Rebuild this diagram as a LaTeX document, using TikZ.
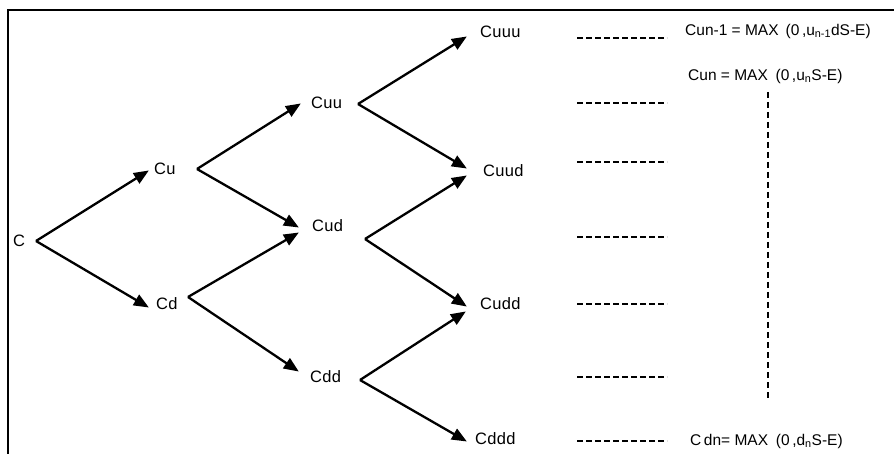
\documentclass[tikz,border=0pt]{standalone}
\usepackage{fontspec}
\setmainfont{Liberation Sans}
\newfontfamily\lblfont[LetterSpace=2]{Liberation Sans}
\usetikzlibrary{arrows.meta}
\tikzset{
  lbl/.style={anchor=west, inner sep=0pt, font=\lblfont\fontsize{16.5}{19}\selectfont},
  frm/.style={anchor=west, inner sep=0pt, font=\fontsize{15.5}{18}\selectfont},
  arr/.style={line width=2.3pt, -{Triangle[length=15pt,width=12pt]}, shorten >=-1pt},
  dsh/.style={line width=2.4pt, dash pattern=on 6pt off 3pt},
  frame/.style={line width=2.3pt}
}
\begin{document}
\begin{tikzpicture}[x=1pt,y=-1pt]
\useasboundingbox (0,0) rectangle (894,454);
% frame
\draw[frame] (894,10) -- (8,10) -- (8,454);
% labels
\node[lbl] (C)    at (13,241) {C};
\node[lbl] (Cu)   at (154,169) {Cu};
\node[lbl] (Cd)   at (156,304) {Cd};
\node[lbl] (Cuu)  at (311,103) {Cuu};
\node[lbl] (Cud)  at (312,226) {Cud};
\node[lbl] (Cdd)  at (310,377) {Cdd};
\node[lbl] (Cuuu) at (480,32) {Cuuu};
\node[lbl] (Cuud) at (483,171) {Cuud};
\node[lbl] (Cudd) at (480,304) {Cudd};
\node[lbl] (Cddd) at (475,439) {Cddd};
% branch points and arrow tips
\coordinate (C-o)   at (36,241);
\coordinate (Cu-o)  at (197,169);
\coordinate (Cd-o)  at (188,297);
\coordinate (Cuu-o) at (358,104);
\coordinate (Cud-o) at (365,239);
\coordinate (Cdd-o) at (360,380);
\coordinate (Cu-i)   at (148,171);
\coordinate (Cd-i)   at (148,307);
\coordinate (Cuu-i)  at (300,104);
\coordinate (Cud-i1) at (298,227);
\coordinate (Cud-i2) at (298,233);
\coordinate (Cdd-i)  at (298,371);
\coordinate (Cuuu-i) at (466,37);
\coordinate (Cuud-i1) at (466,168);
\coordinate (Cuud-i2) at (466,176);
\coordinate (Cudd-i1) at (466,306);
\coordinate (Cudd-i2) at (465,312);
\coordinate (Cddd-i) at (466,441);
% arrows
\draw[arr] (C-o) -- (Cu-i);
\draw[arr] (C-o) -- (Cd-i);
\draw[arr] (Cu-o) -- (Cuu-i);
\draw[arr] (Cu-o) -- (Cud-i1);
\draw[arr] (Cd-o) -- (Cud-i2);
\draw[arr] (Cd-o) -- (Cdd-i);
\draw[arr] (Cuu-o) -- (Cuuu-i);
\draw[arr] (Cuu-o) -- (Cuud-i1);
\draw[arr] (Cud-o) -- (Cuud-i2);
\draw[arr] (Cud-o) -- (Cudd-i1);
\draw[arr] (Cdd-o) -- (Cudd-i2);
\draw[arr] (Cdd-o) -- (Cddd-i);
% dashed leaders
\foreach \y [count=\i] in {38,103,162,237,304,377,441}{
  \coordinate (dl\i) at (577,\y);
  \coordinate (dr\i) at (667,\y);
  \draw[dsh] (dl\i) -- (dr\i);
}
% formulas
\node[frm] (f1) at (685,31) {Cun-1 = MAX\hspace{0.45em}(0\,,u\textsubscript{n-1}dS-E)};
\node[frm] (f2) at (688,76) {Cun = MAX\hspace{0.5em}(0\,,u\textsubscript{n}S-E)};
\node[frm] (f3) at (690,441) {C\,dn= MAX\hspace{0.5em}(0\,,d\textsubscript{n}S-E)};
\coordinate (vt) at (768,92);
\coordinate (vb) at (768,401);
\draw[dsh, dash pattern=on 6pt off 4pt] (vt) -- (vb);
\end{tikzpicture}
\end{document}
